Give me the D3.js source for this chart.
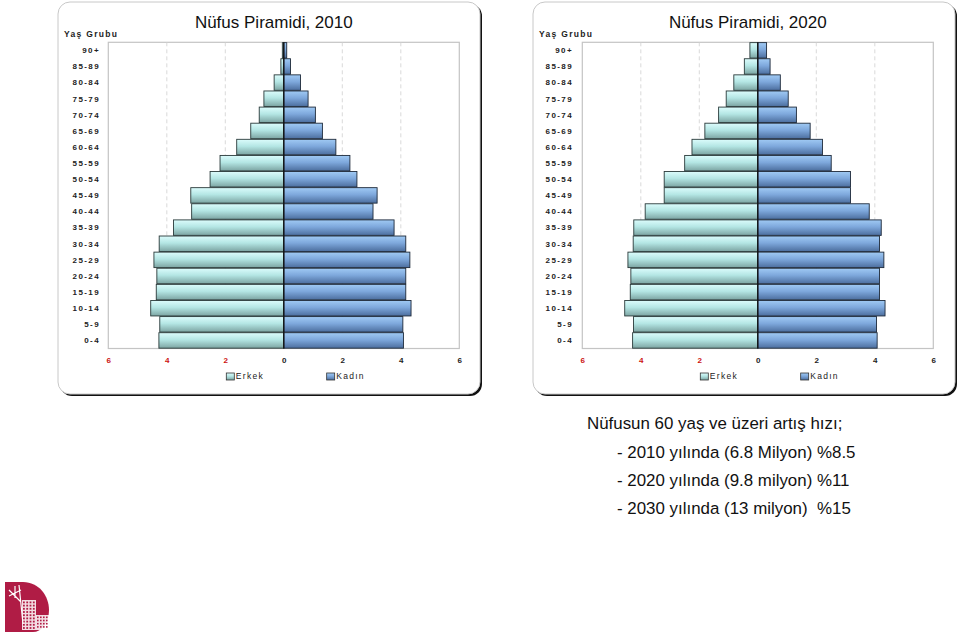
<!DOCTYPE html>
<html><head><meta charset="utf-8">
<script src="https://cdn.jsdelivr.net/npm/d3@7"></script>
<style>body{margin:0;background:#fff}svg{display:block}</style>
</head><body>
<svg id="c" width="959" height="637"></svg>
<script>
const ageGroups = ["0-4","5-9","10-14","15-19","20-24","25-29","30-34","35-39","40-44","45-49","50-54","55-59","60-64","65-69","70-74","75-79","80-84","85-89","90+"];
const male2010   = [4.27,4.24,4.55,4.36,4.34,4.44,4.26,3.77,3.15,3.18,2.52,2.18,1.61,1.13,0.84,0.68,0.33,0.10,0.05];
const female2010 = [4.09,4.07,4.35,4.17,4.17,4.31,4.17,3.77,3.05,3.19,2.50,2.26,1.78,1.32,1.08,0.83,0.57,0.23,0.10];
const male2020   = [4.28,4.25,4.55,4.36,4.34,4.44,4.26,4.24,3.85,3.20,3.20,2.50,2.25,1.81,1.34,1.08,0.82,0.46,0.27];
const female2020 = [4.08,4.06,4.35,4.16,4.16,4.31,4.16,4.22,3.81,3.17,3.17,2.51,2.21,1.79,1.32,1.04,0.77,0.42,0.30];
const tickValues = [-6,-4,-2,0,2,4,6];
const titles = ["Nüfus Piramidi, 2010","Nüfus Piramidi, 2020"];
const legendLabels = ["Erkek","Kadın"];
const noteLines = ["Nüfusun 60 yaş ve üzeri artış hızı;","- 2010 yılında (6.8 Milyon) %8.5","- 2020 yılında (9.8 milyon) %11","- 2030 yılında (13 milyon)  %15"];

const svg = d3.select("#c");
const defs = svg.append("defs");
function grad(id, c1, c2, c3){
  const g = defs.append("linearGradient").attr("id",id).attr("x1",0).attr("y1",0).attr("x2",0).attr("y2",1);
  g.append("stop").attr("offset","0%").attr("stop-color",c1);
  g.append("stop").attr("offset","45%").attr("stop-color",c2);
  g.append("stop").attr("offset","100%").attr("stop-color",c3);
}
grad("gm","#dcfcfc","#b4e6e4","#7ca4a2");
grad("gf","#a0caf4","#7ea8dc","#4c6e9e");

function panel(px, py, pw, ph, plot, title, male, female, labelX){
  svg.append("rect").attr("x",px+2).attr("y",py+2).attr("width",pw).attr("height",ph)
    .attr("rx",12).attr("fill","#111");
  svg.append("rect").attr("x",px).attr("y",py).attr("width",pw).attr("height",ph)
    .attr("rx",12).attr("fill","#fff").attr("stroke","#c8c8c8").attr("stroke-width",1);

  const x = d3.scaleLinear().domain([-6,6]).range([plot.x0, plot.x1]);
  const y = d3.scaleBand().domain(ageGroups.slice().reverse()).range([plot.y0, plot.y1]).paddingInner(0.04).paddingOuter(0.02);
  const g = svg.append("g");

  g.append("rect").attr("x",plot.x0).attr("y",plot.y0).attr("width",plot.x1-plot.x0).attr("height",plot.y1-plot.y0)
    .attr("fill","#fff").attr("stroke","#c4c4c4").attr("stroke-width",1.2);

  g.selectAll("line.grid").data(tickValues.filter(v=>v!==0 && Math.abs(v)!==6)).join("line")
    .attr("x1",d=>x(d)).attr("x2",d=>x(d)).attr("y1",plot.y0).attr("y2",plot.y1)
    .attr("stroke","#d0d0d0").attr("stroke-dasharray","4,3").attr("stroke-width",0.8);

  g.selectAll("rect.m").data(ageGroups).join("rect")
    .attr("x",(d,i)=>x(-male[i])).attr("y",d=>y(d))
    .attr("width",(d,i)=>x(0)-x(-male[i])).attr("height",y.bandwidth())
    .attr("fill","url(#gm)").attr("stroke","#2a3a3a").attr("stroke-width",0.9);
  g.selectAll("rect.f").data(ageGroups).join("rect")
    .attr("x",x(0)).attr("y",d=>y(d))
    .attr("width",(d,i)=>x(female[i])-x(0)).attr("height",y.bandwidth())
    .attr("fill","url(#gf)").attr("stroke","#1e2a3a").attr("stroke-width",0.9);
  g.append("line").attr("x1",x(0)).attr("x2",x(0)).attr("y1",plot.y0).attr("y2",plot.y1)
    .attr("stroke","#111").attr("stroke-width",1.3);

  g.selectAll("text.cat").data(ageGroups).join("text")
    .attr("x",labelX).attr("y",d=>y(d)+y.bandwidth()/2).attr("dy","0.35em")
    .attr("text-anchor","end").attr("font-family","Arial, 'Liberation Sans', sans-serif")
    .attr("font-size",8).attr("font-weight","bold").attr("letter-spacing","1.4px").attr("fill","#222")
    .text(d=>d);

  g.append("text").attr("x",px+6).attr("y",plot.y0-5)
    .attr("font-family","Arial, 'Liberation Sans', sans-serif").attr("font-size",8.5).attr("font-weight","bold")
    .attr("letter-spacing","1.3px").attr("fill","#222").text("Yaş Grubu");

  const ax = g.append("g").attr("transform",`translate(0,${plot.y1})`)
    .call(d3.axisBottom(x).tickValues(tickValues).tickSize(0).tickPadding(9).tickFormat(d=>Math.abs(d)));
  ax.select(".domain").remove();
  ax.selectAll("text").attr("font-family","Arial, 'Liberation Sans', sans-serif").attr("font-size",8)
    .attr("font-weight","bold").attr("fill",d=>d<0?"#cc1111":"#222");

  g.append("text").attr("x",(plot.x0+plot.x1)/2 - 10).attr("y",plot.y0-14.5).attr("text-anchor","middle")
    .attr("font-family","Arial, 'Liberation Sans', sans-serif").attr("font-size",17).attr("fill","#111").text(title);

  const ly = plot.y1 + 28;
  const lx = [x(-2)+1, x(1.5)-1];
  legendLabels.forEach((lab,i)=>{
    g.append("rect").attr("x",lx[i]).attr("y",ly-3.5).attr("width",8).attr("height",7)
      .attr("fill",i===0?"url(#gm)":"url(#gf)").attr("stroke","#333").attr("stroke-width",0.8);
    g.append("text").attr("x",lx[i]+9.5).attr("y",ly).attr("dy","0.35em")
      .attr("font-family","Arial, 'Liberation Sans', sans-serif").attr("font-size",8.5)
      .attr("letter-spacing","1.3px").attr("fill","#222").text(lab);
  });
}

panel(58, 2, 422, 392, {x0:108.3, x1:459.3, y0:42.3, y1:348.5}, titles[0], male2010, female2010, 100);
panel(533, 2, 422, 392, {x0:582.3, x1:933.3, y0:42.3, y1:348.5}, titles[1], male2020, female2020, 573);

const noteX = [587, 617, 617, 617];
const noteY = [429, 458, 486, 514];
svg.selectAll("text.note").data(noteLines).join("text")
  .attr("x",(d,i)=>noteX[i]).attr("y",(d,i)=>noteY[i])
  .attr("font-family","Arial, 'Liberation Sans', sans-serif").attr("font-size",16.9).attr("fill","#111")
  .style("white-space","pre").text(d=>d);

const logo = svg.append("g").attr("transform","translate(5,582)");
logo.append("path").attr("d","M0,0 H18 C34,0 44,14 44,28 C44,42 36,50 28,50 H0 Z").attr("fill","#b01c45");
logo.append("rect").attr("x",17).attr("y",18).attr("width",14).attr("height",30).attr("fill","#fff").attr("opacity",0.85);
logo.append("rect").attr("x",31).attr("y",33).attr("width",13).attr("height",15).attr("fill","#fff").attr("opacity",0.85);
for(let r=0;r<9;r++)for(let c=0;c<4;c++){
  logo.append("rect").attr("x",18+c*3.3).attr("y",19.5+r*3.2).attr("width",1.8).attr("height",1.8).attr("fill","#b01c45");
}
for(let r=0;r<4;r++)for(let c=0;c<4;c++){
  logo.append("rect").attr("x",32+c*3).attr("y",34.5+r*3.2).attr("width",1.6).attr("height",1.6).attr("fill","#b01c45");
}
logo.append("path").attr("d","M4,8 L16,20 M10,4 L10,16 M4,14 L16,8 M14,3 L18,42").attr("stroke","#fff").attr("stroke-width",1.2);
</script>
</body></html>
